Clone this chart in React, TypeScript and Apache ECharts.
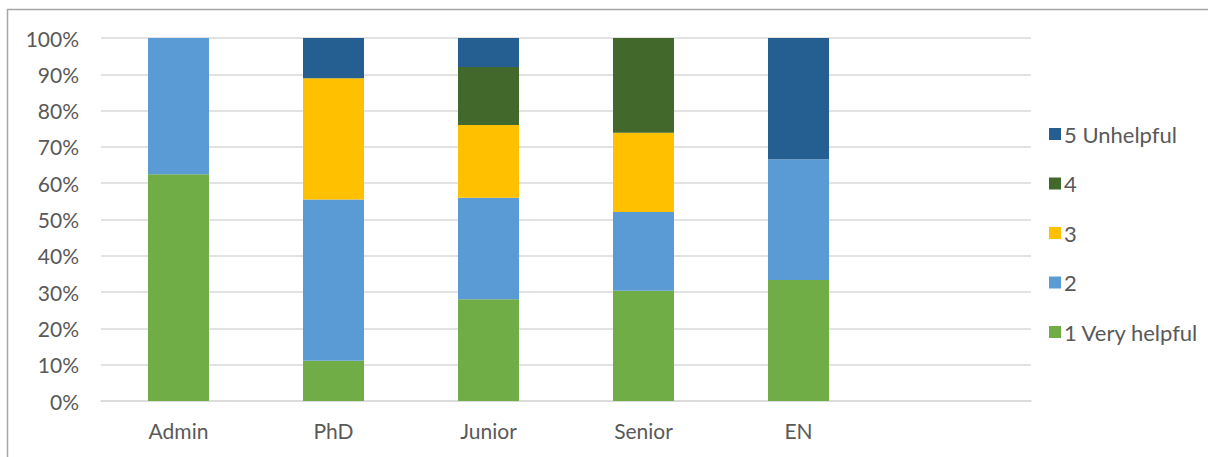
import React, { useEffect, useRef } from "react";
import * as echarts from "echarts";

const categories = ["Admin", "PhD", "Junior", "Senior", "EN", ""];
const seriesNames = ["1 Very helpful", "2", "3", "4", "5 Unhelpful"];
const v1 = [62.5, 11.1, 28, 30.4, 33.3, null];
const v2 = [37.5, 44.4, 28, 21.7, 33.3, null];
const v3 = [0, 33.4, 20, 21.8, 0, null];
const v4 = [0, 0, 16, 26.1, 0, null];
const v5 = [0, 11.1, 8, 0, 33.4, null];
const colors = ["#70AD47", "#5B9BD5", "#FFC000", "#43682B", "#255E91"];

export default function App() {
  const ref = useRef<HTMLDivElement>(null);
  useEffect(() => {
    const chart = echarts.init(ref.current!, null, { renderer: "svg" });
    const values = [v1, v2, v3, v4, v5];
    chart.setOption({
      animation: false,
      textStyle: { fontFamily: "Lato, 'Open Sans', sans-serif" },
      graphic: [
        {
          type: "rect",
          shape: { x: 7.5, y: 9.5, width: 1300, height: 600 },
          style: { fill: "none", stroke: "#A6A6A6", lineWidth: 1.5 },
          silent: true,
        },
      ],
      grid: { left: 101, right: 177, top: 38, bottom: 56, containLabel: false },
      legend: {
        orient: "vertical",
        left: 1044,
        top: 118,
        itemWidth: 12,
        itemHeight: 12,
        itemGap: 27.5,
        icon: "rect",
        data: [...seriesNames].reverse(),
        textStyle: { color: "#595959", fontSize: 22, lineHeight: 22, padding: [0, 0, 0, -2] },
      },
      xAxis: {
        type: "category",
        data: categories,
        boundaryGap: true,
        axisLine: { show: true, lineStyle: { color: "#D9D9D9", width: 1.5 } },
        axisTick: { show: false },
        axisLabel: { color: "#595959", fontSize: 21, margin: 19 },
      },
      yAxis: {
        type: "value",
        min: 0,
        max: 100,
        interval: 10,
        axisLine: { show: false },
        axisTick: { show: false },
        axisLabel: { color: "#595959", fontSize: 21, formatter: "{value}%", margin: 22, padding: [0, 0, 3, 0] },
        splitLine: { lineStyle: { color: "#D9D9D9", width: 1.5 } },
      },
      series: seriesNames.map((name, i) => ({
        name,
        type: "bar",
        stack: "total",
        barWidth: 61,
        data: values[i],
        itemStyle: { color: colors[i] },
      })),
    });
    return () => chart.dispose();
  }, []);
  return (
    <div
      ref={ref}
      style={{ position: "fixed", left: 0, top: 0, width: 1208, height: 457, background: "#fff" }}
    />
  );
}
